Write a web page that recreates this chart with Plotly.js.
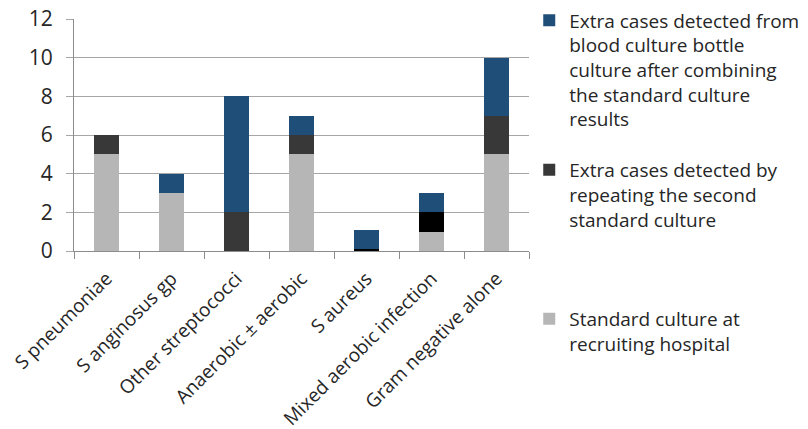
<!DOCTYPE html>
<html><head><meta charset="utf-8">
<script src="https://cdn.plot.ly/plotly-3.0.1.min.js"></script>
<style>html,body{margin:0;padding:0;background:#fff}#chart{width:808px;height:429px}</style>
</head><body><div id="chart"></div>
<script>
const categories = ["S pneumoniae","S anginosus gp","Other streptococci","Anaerobic ± aerobic","S aureus","Mixed aerobic infection","Gram negative alone"];
const standardCulture = [5,3,0,5,0,1,5];
const repeatSecond = [1,0,2,1,0.1,1,2];
const bottleCulture = [0,1,6,1,1,1,3];
const repeatColors = ["#383838","#383838","#383838","#383838","#000000","#000000","#383838"];
const seriesNames = [
  "Standard culture at<br>recruiting hospital",
  "Extra cases detected by<br>repeating the second<br>standard culture",
  "Extra cases detected from<br>blood culture bottle<br>culture after combining<br>the standard culture<br>results"
];
const yTicks = [0,2,4,6,8,10,12];

const F = "'Open Sans', Lato, sans-serif";
const traces = [
  {type:"bar", x:categories, y:standardCulture, name:seriesNames[0], marker:{color:"#b6b6b6"}, legend:"legend3"},
  {type:"bar", x:categories, y:repeatSecond, name:seriesNames[1], marker:{color:repeatColors}, legend:"legend2"},
  {type:"bar", x:categories, y:bottleCulture, name:seriesNames[2], marker:{color:"#1f4e79"}, legend:"legend"}
];
const legBase = {xref:"container", yref:"container", xanchor:"left", yanchor:"top", valign:"top", bgcolor:"rgba(0,0,0,0)", font:{family:F, size:19, color:"#262626"}};
const layout = {
  width:808, height:429,
  margin:{l:74, r:279, t:19, b:178},
  paper_bgcolor:"#fff", plot_bgcolor:"#fff",
  barmode:"stack", bargap:0.615,
  font:{family:F, size:18, color:"#262626"},
  xaxis:{type:"category", tickson:"boundaries", ticks:"outside", ticklen:7, tickcolor:"#8c8c8c",
         showline:true, linecolor:"#8c8c8c", linewidth:1, tickangle:-45, showgrid:false,
         ticklabelstandoff:8,
         tickfont:{family:F, size:19, color:"#262626"}},
  yaxis:{range:[0,12], tickvals:yTicks, ticktext:yTicks.map(String), ticks:"outside", ticklen:7, tickcolor:"#a6a6a6",
         showline:true, linecolor:"#8c8c8c", linewidth:1, gridcolor:"#a6a6a6", gridwidth:1, zeroline:false,
         ticklabelstandoff:9,
         tickfont:{family:F, size:21, color:"#262626"}},
  showlegend:true,
  legend:Object.assign({}, legBase, {x:0.655, y:0.997}),
  legend2:Object.assign({}, legBase, {x:0.655, y:0.648}),
  legend3:Object.assign({}, legBase, {x:0.655, y:0.301})
};
Plotly.newPlot("chart", traces, layout, {displayModeBar:false, staticPlot:true});
</script></body></html>
